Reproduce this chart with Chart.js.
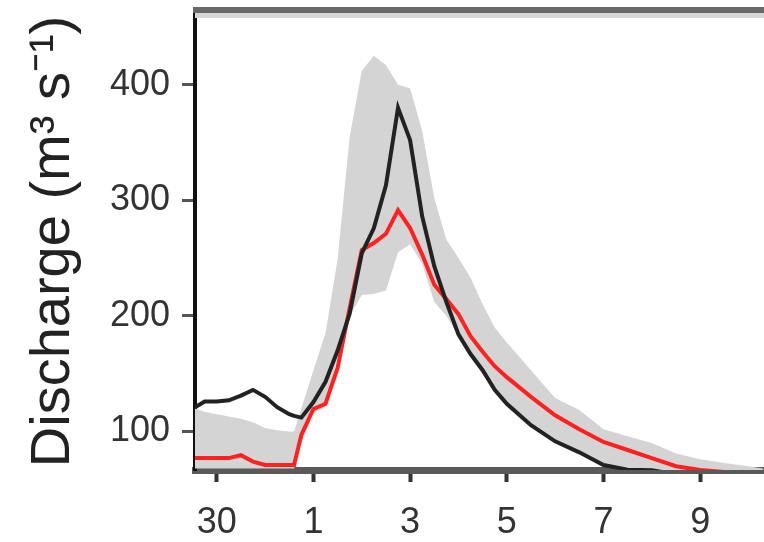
<!DOCTYPE html>
<html>
<head>
<meta charset="utf-8">
<script src="https://cdn.jsdelivr.net/npm/chart.js@4.4.1/dist/chart.umd.min.js"></script>
<style>
  html, body { margin: 0; padding: 0; background: #fff; overflow: hidden; }
  #wrap { width: 764px; height: 542px; }
</style>
</head>
<body>
<div id="wrap"><canvas id="discharge" width="764" height="542"></canvas></div>
<script>
// days counted from the 30th (30 -> 0, 1 -> 2, 3 -> 4 ...)
var days      = [-0.45, -0.25, 0, 0.25, 0.5, 0.75, 1, 1.25, 1.5, 1.6, 1.75, 2, 2.25, 2.5, 2.75, 3, 3.25, 3.5, 3.75, 4, 4.25, 4.5, 4.75, 5, 5.25, 5.5, 5.75, 6, 6.5, 7, 7.5, 8, 8.5, 9, 9.5, 10, 10.5, 11, 11.3];
var observed  = [121, 126, 126, 127, 131, 136, 130, 121, 115, 113.5, 112, 125.5, 143, 170, 202, 254, 276, 313, 380, 352, 286, 243, 212, 184, 167, 153, 136, 124, 105.5, 91.5, 82, 71, 67, 66.5, 63, 60, 58, 56, 55];
var simulated = [77, 77, 77, 77, 79.5, 74, 71, 71, 71, 71, 97, 119.5, 124, 155, 207, 257, 263, 271, 291.5, 276, 253, 227, 214.5, 201.5, 182.5, 169, 156.5, 147, 130, 114, 102, 91, 84, 77, 70, 66.7, 65, 62, 60];
var bandLow   = [68, 68, 68, 68, 68, 68, 68, 68, 68, 68, 90, 116, 121, 165, 200, 218, 219, 222, 255, 262, 245, 212, 200, 183, 166, 152, 135, 123, 105, 91, 81, 70, 66, 65, 65, 65, 65, 65, 65];
var bandHigh  = [120, 117, 115, 113, 111, 108, 103, 101, 100, 100, 120, 153, 185, 249, 355, 412, 425, 417, 400, 397, 360, 302, 266, 250, 233, 210, 190, 177, 153, 129, 118.5, 102, 96, 90, 81, 76, 72.7, 70, 68];

var tickDays   = [0, 2, 4, 6, 8, 10];
var tickLabels = ['30', '1', '3', '5', '7', '9'];
var yTicks     = [100, 200, 300, 400];

function pairs(vals) {
  return days.map(function (d, i) { return { x: d, y: vals[i] }; });
}

var fontFamily = '"Liberation Sans", Arial, sans-serif';

// grey frame line across the top of the plot
var topFrame = {
  id: 'topFrame',
  afterDraw: function (chart) {
    var a = chart.chartArea, c = chart.ctx;
    c.save();
    c.fillStyle = '#d6d6d6';
    c.fillRect(a.left, a.top, a.right - a.left + 2, 5);
    c.fillStyle = '#686868';
    c.fillRect(a.left - 2, a.top - 6, a.right - a.left + 4, 6);
    c.restore();
  }
};

var ctx = document.getElementById('discharge').getContext('2d');
var dischargeGraph = new Chart(ctx, {
  type: 'line',
  data: {
    datasets: [{
      label: 'Ensemble min',
      data: pairs(bandLow),
      borderWidth: 0,
      pointRadius: 0,
      fill: false,
      order: 3
    }, {
      label: 'Ensemble max',
      data: pairs(bandHigh),
      borderWidth: 0,
      pointRadius: 0,
      backgroundColor: '#d4d4d4',
      fill: '-1',
      order: 2
    }, {
      label: 'Simulated',
      data: pairs(simulated),
      borderColor: '#ff2020',
      borderWidth: 4,
      pointRadius: 0,
      fill: false,
      order: 1
    }, {
      label: 'Observed',
      data: pairs(observed),
      borderColor: '#222',
      borderWidth: 4,
      pointRadius: 0,
      fill: false,
      order: 0
    }]
  },
  options: {
    responsive: false,
    animation: false,
    layout: { padding: { top: 13, right: 1, left: 0, bottom: 0 } },
    plugins: {
      legend: { display: false },
      tooltip: { enabled: false }
    },
    scales: {
      x: {
        type: 'linear',
        min: -0.45,
        max: 11.3,
        afterFit: function (s) { s.height = 72; s.paddingLeft = 0; s.paddingRight = 0; },
        afterBuildTicks: function (s) { s.ticks = tickDays.map(function (v) { return { value: v }; }); },
        grid: { drawOnChartArea: false, drawTicks: true, tickLength: 12, tickColor: '#333', tickWidth: 4 },
        border: { display: true, color: '#5a5a5a', width: 7 },
        ticks: {
          padding: 19,
          color: '#333',
          maxRotation: 0,
          autoSkip: false,
          font: { family: fontFamily, size: 36 },
          callback: function (v, i) { return tickLabels[i]; }
        }
      },
      y: {
        min: 66.7,
        max: 462,
        afterFit: function (s) { s.width = 195; s.paddingTop = 0; s.paddingBottom = 0; },
        afterBuildTicks: function (s) { s.ticks = yTicks.map(function (v) { return { value: v }; }); },
        grid: { drawOnChartArea: false, drawTicks: true, tickLength: 13, tickColor: '#555', tickWidth: 3 },
        border: { display: true, color: '#111', width: 4 },
        ticks: {
          padding: 12,
          color: '#333',
          font: { family: fontFamily, size: 36 }
        },
        title: {
          display: true,
          text: 'Discharge (m\u00b3 s\u207b\u00b9)',
          color: '#222',
          font: { family: fontFamily, size: 56 },
          padding: { top: 20, bottom: 0 }
        }
      }
    }
  },
  plugins: [topFrame]
});
</script>
</body>
</html>
